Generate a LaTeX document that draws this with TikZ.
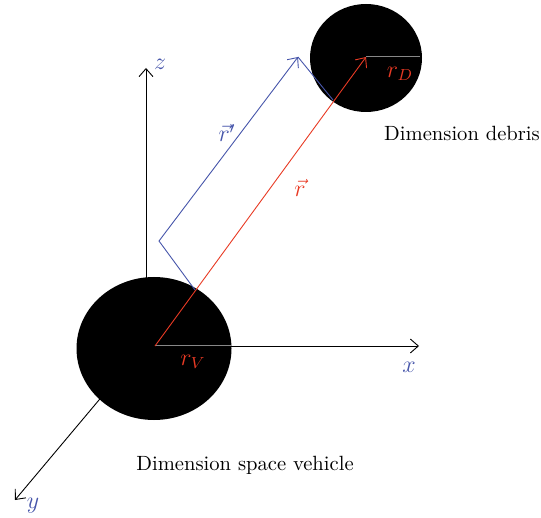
\documentclass[tikz,border=0pt]{standalone}
\usetikzlibrary{shapes.geometric,arrows.meta}
\definecolor{vblue}{RGB}{70,85,170}
\definecolor{vred}{RGB}{232,58,36}
\definecolor{vgray}{RGB}{135,135,135}
\begin{document}
\begin{tikzpicture}[x=0.5pt,y=-0.5pt,
  axis/.style={draw=black,line width=0.45pt,-{Straight Barb[length=4pt,width=7pt]}},
  body/.style={ellipse,fill=black,draw=none,inner sep=0pt},
  radline/.style={draw=vgray,line width=0.5pt},
  rvec/.style={draw=vred,line width=0.45pt,-{Straight Barb[length=4pt,width=7pt]}},
  bvec/.style={draw=vblue,line width=0.45pt},
  lbl/.style={inner sep=1pt,font=\fontsize{10.3}{12}\selectfont},
  mlbl/.style={inner sep=1pt,font=\fontsize{11.5}{13}\selectfont},
  axlbl/.style={inner sep=1pt,text=vblue,font=\fontsize{11.5}{13}\selectfont}]
\useasboundingbox (0,0) rectangle (541,518);
% coordinates
\coordinate (O) at (155,346);
\coordinate (Xtip) at (419,346);
\coordinate (Zbase) at (146,300);
\coordinate (Ztip) at (146,68);
\coordinate (Ybase) at (120,375);
\coordinate (Ytip) at (15,500);
\coordinate (D) at (366,57);
\coordinate (Drad) at (420,57);
\coordinate (Vrad) at (231,346);
\coordinate (B1) at (195,290);
\coordinate (B2) at (159,241);
\coordinate (B3) at (298,57);
\coordinate (B4) at (333,100);
% axes
\draw[axis] (O) -- (Xtip);
\draw[axis] (Zbase) -- (Ztip);
\draw[axis] (Ybase) -- (Ytip);
% bodies
\node[body,minimum width=77.5pt,minimum height=71.5pt] (V) at (154,348.5) {};
\node[body,minimum width=56pt,minimum height=54pt] (Deb) at (366,58) {};
% radii
\draw[radline] (O) -- (Vrad);
\draw[radline] (D) -- (Drad);
% vectors
\draw[rvec] (O) -- (D);
\draw[bvec,-{Straight Barb[length=4pt,width=7pt]}] (B1) -- (B2) -- (B3);
\draw[bvec] (B3) -- (B4);
% labels
\node[axlbl] (zl) at (160,64) {$z$};
\node[axlbl] (xl) at (409,367) {$x$};
\node[axlbl] (yl) at (33,506) {$y$};
\node[mlbl,text=vblue] (rpl) at (227,133) {$\vec{r}'$};
\node[mlbl,text=vred] (rl) at (300,188) {$\vec{r}$};
\node[mlbl,text=vred] (rVl) at (193,362) {$r_V$};
\node[mlbl,text=vred] (rDl) at (400,74) {$r_D$};
\node[lbl] (dd) at (462,133) {Dimension debris};
\node[lbl] (dv) at (245,465) {Dimension space vehicle};
\end{tikzpicture}
\end{document}
